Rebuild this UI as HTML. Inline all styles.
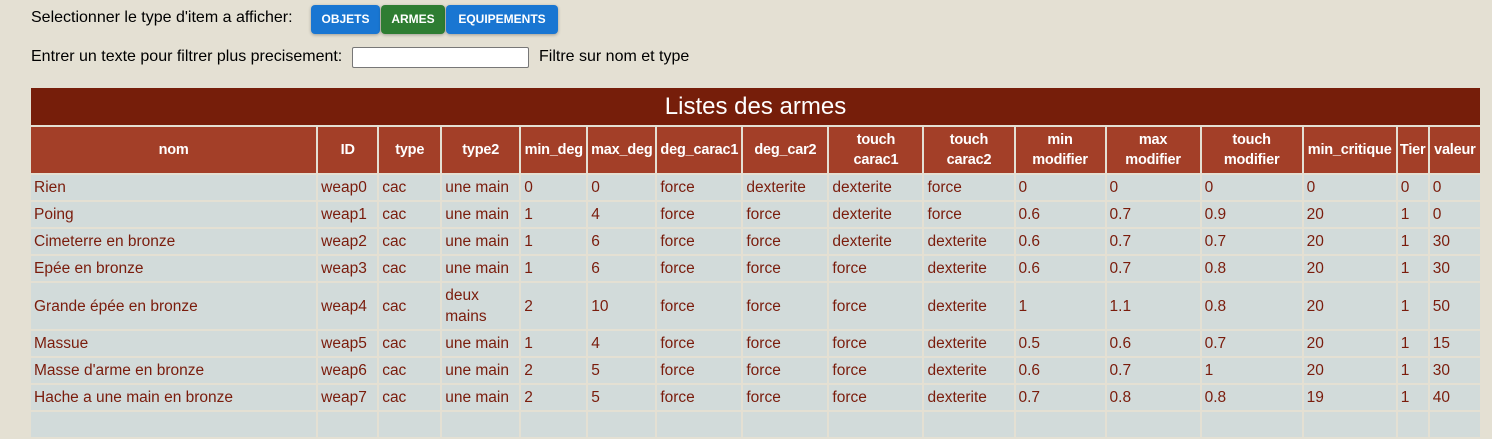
<!DOCTYPE html>
<html><head><meta charset="utf-8"><style>
body{margin:0;background:#e4e0d3;width:1492px;height:413px;overflow:hidden;font-family:"Liberation Sans",sans-serif;color:#000;position:relative}
.t{position:absolute;font-size:16px;white-space:nowrap}
.b{position:absolute;top:5px;height:29px;color:#fff;font-weight:bold;font-size:12px;line-height:29px;text-align:center;border-radius:4px;box-shadow:0 1px 3px rgba(0,0,0,.3)}
table{position:absolute;left:29px;top:86px;border-spacing:2px;table-layout:fixed;width:1453px}
td,th{padding:0 3px;overflow:hidden;white-space:nowrap}
td{background:#d2dbda;color:#7a1c0c;font-size:15.5px;height:25px;line-height:25px}
th{background:#a33f28;color:#fff;font-size:14.5px;height:46px;line-height:20px;text-align:center;padding:0 1px;letter-spacing:-0.2px}
th.title{background:#761e0a;font-weight:normal;font-size:24px;height:37px;line-height:37px;letter-spacing:0}
td.w{white-space:normal;line-height:21px;height:46px}
</style></head><body>
<div class="t" style="left:31px;top:9px">Selectionner le type d'item a afficher:</div>
<div class="b" style="left:311px;width:69px;background:#1976d2">OBJETS</div>
<div class="b" style="left:381px;width:64px;background:#2e7d32">ARMES</div>
<div class="b" style="left:446px;width:112px;background:#1976d2">EQUIPEMENTS</div>
<div class="t" style="left:31px;top:48px">Entrer un texte pour filtrer plus precisement:</div>
<div style="position:absolute;left:352px;top:47px;width:175px;height:19px;background:#fff;border:1px solid #777;border-radius:2px"></div>
<div class="t" style="left:539px;top:48px">Filtre sur nom et type</div>
<table>
<colgroup><col style="width:285px"><col style="width:59px"><col style="width:61px"><col style="width:77px"><col style="width:65px"><col style="width:67px"><col style="width:84px"><col style="width:84px"><col style="width:93px"><col style="width:89px"><col style="width:89px"><col style="width:93px"><col style="width:100px"><col style="width:92px"><col style="width:30px"><col style="width:50px"></colgroup>
<tr><th class="title" colspan="16">Listes des armes</th></tr>
<tr><th>nom</th><th>ID</th><th>type</th><th>type2</th><th>min_deg</th><th>max_deg</th><th>deg_carac1</th><th>deg_car2</th><th>touch<br>carac1</th><th>touch<br>carac2</th><th>min<br>modifier</th><th>max<br>modifier</th><th>touch<br>modifier</th><th style="padding:0">min_critique</th><th style="padding:0">Tier</th><th style="padding:0">valeur</th></tr>
<tr><td>Rien</td><td>weap0</td><td>cac</td><td>une main</td><td>0</td><td>0</td><td>force</td><td>dexterite</td><td>dexterite</td><td>force</td><td>0</td><td>0</td><td>0</td><td>0</td><td>0</td><td>0</td></tr>
<tr><td>Poing</td><td>weap1</td><td>cac</td><td>une main</td><td>1</td><td>4</td><td>force</td><td>force</td><td>dexterite</td><td>force</td><td>0.6</td><td>0.7</td><td>0.9</td><td>20</td><td>1</td><td>0</td></tr>
<tr><td>Cimeterre en bronze</td><td>weap2</td><td>cac</td><td>une main</td><td>1</td><td>6</td><td>force</td><td>force</td><td>dexterite</td><td>dexterite</td><td>0.6</td><td>0.7</td><td>0.7</td><td>20</td><td>1</td><td>30</td></tr>
<tr><td>Epée en bronze</td><td>weap3</td><td>cac</td><td>une main</td><td>1</td><td>6</td><td>force</td><td>force</td><td>force</td><td>dexterite</td><td>0.6</td><td>0.7</td><td>0.8</td><td>20</td><td>1</td><td>30</td></tr>
<tr><td>Grande épée en bronze</td><td>weap4</td><td>cac</td><td class="w">deux mains</td><td>2</td><td>10</td><td>force</td><td>force</td><td>force</td><td>dexterite</td><td>1</td><td>1.1</td><td>0.8</td><td>20</td><td>1</td><td>50</td></tr>
<tr><td>Massue</td><td>weap5</td><td>cac</td><td>une main</td><td>1</td><td>4</td><td>force</td><td>force</td><td>force</td><td>dexterite</td><td>0.5</td><td>0.6</td><td>0.7</td><td>20</td><td>1</td><td>15</td></tr>
<tr><td>Masse d'arme en bronze</td><td>weap6</td><td>cac</td><td>une main</td><td>2</td><td>5</td><td>force</td><td>force</td><td>force</td><td>dexterite</td><td>0.6</td><td>0.7</td><td>1</td><td>20</td><td>1</td><td>30</td></tr>
<tr><td>Hache a une main en bronze</td><td>weap7</td><td>cac</td><td>une main</td><td>2</td><td>5</td><td>force</td><td>force</td><td>force</td><td>dexterite</td><td>0.7</td><td>0.8</td><td>0.8</td><td>19</td><td>1</td><td>40</td></tr>
<tr><td>&nbsp;</td><td></td><td></td><td></td><td></td><td></td><td></td><td></td><td></td><td></td><td></td><td></td><td></td><td></td><td></td><td></td></tr>
</table>
</body></html>
